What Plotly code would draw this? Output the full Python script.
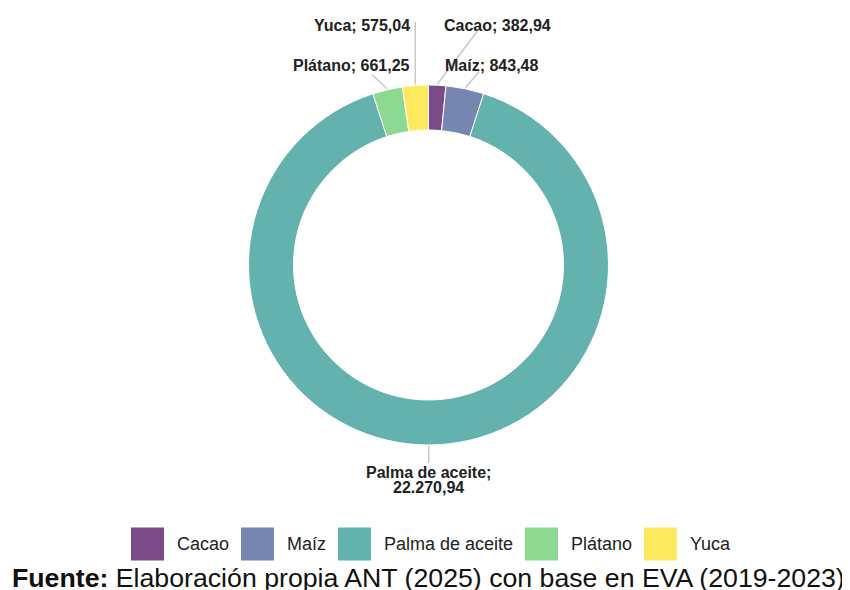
import math
import plotly.graph_objects as go

# ---- data ----
categories = ["Cacao", "Maíz", "Palma de aceite", "Plátano", "Yuca"]
values = [382.94, 843.48, 22270.94, 661.25, 575.04]
value_labels = ["382,94", "843,48", "22.270,94", "661,25", "575,04"]
colors = ["#7b4b87", "#7686b1", "#63b2ae", "#8ed992", "#fde95e"]

source_text = "<b>Fuente:</b> Elaboración propia ANT (2025) con base en EVA (2019-2023)"

# ---- layout constants (pixels, page has 8px body margin) ----
W, H = 850, 590
OFF = 8
CX, CY, R = 428.5 - OFF, 265.0 - OFF, 180.0
HOLE = 0.75
FONT = "Liberation Sans, Arial, sans-serif"
LINE_COLOR = "#c9c9c9"
# leader-line end offsets from slice edge point, and label placement
label_cfg = {
    "Cacao": dict(dx=40, dy=-53, tx=442, ty=25, anchor="left"),
    "Maíz": dict(dx=14, dy=-16, tx=443, ty=65, anchor="left"),
    "Palma de aceite": dict(dx=0, dy=17, tx=428.5, ty=472, anchor="center"),
    "Plátano": dict(dx=-15, dy=-14, tx=412, ty=65, anchor="right"),
    "Yuca": dict(dx=0, dy=-63, tx=412, ty=25, anchor="right"),
}
legend_x = [131, 241, 338, 525, 644]
legend_y = 544
legend_box = 33

fig = go.Figure()

fig.add_trace(go.Pie(
    labels=categories, values=values, hole=HOLE, sort=False,
    direction="clockwise", rotation=0,
    marker=dict(colors=colors, line=dict(color="white", width=1)),
    textinfo="none", hoverinfo="label+value", showlegend=False,
    domain=dict(x=[(CX - R) / W, (CX + R) / W],
                y=[(H - CY - R) / H, (H - CY + R) / H]),
))

# leader lines computed from slice mid-angles
total = sum(values)
cum = 0.0
annotations = []
lab_font = dict(family=FONT, size=16, color="#222")
for cat, v, vl in zip(categories, values, value_labels):
    mid = (cum + v / 2) / total * 2 * math.pi
    cum += v
    px = CX + (R + 1) * math.sin(mid)
    py = CY - (R + 1) * math.cos(mid)
    cfg = label_cfg[cat]
    fig.add_trace(go.Scatter(
        x=[px, px + cfg["dx"]], y=[py, py + cfg["dy"]], mode="lines",
        line=dict(color=LINE_COLOR, width=1.5), hoverinfo="skip",
        showlegend=False, xaxis="x", yaxis="y"))
    tx, ty = cfg["tx"] - OFF, cfg["ty"] - OFF
    if cat == "Palma de aceite":
        annotations.append(dict(x=tx, y=ty, xref="x", yref="y",
                                text=f"<b>{cat};</b>", showarrow=False,
                                xanchor="center", yanchor="middle", font=lab_font))
        annotations.append(dict(x=tx, y=ty + 15, xref="x", yref="y",
                                text=f"<b>{vl}</b>", showarrow=False,
                                xanchor="center", yanchor="middle", font=lab_font))
    else:
        annotations.append(dict(x=tx, y=ty, xref="x", yref="y",
                                text=f"<b>{cat}; {vl}</b>", showarrow=False,
                                xanchor=cfg["anchor"], yanchor="middle",
                                font=lab_font))

# custom legend
fig.add_trace(go.Scatter(
    x=[lx - OFF + legend_box / 2 for lx in legend_x],
    y=[legend_y - OFF] * len(legend_x),
    mode="markers", marker=dict(symbol="square", size=legend_box, color=colors,
                                line=dict(width=0)),
    hoverinfo="skip", showlegend=False, xaxis="x", yaxis="y"))
for lx, cat in zip(legend_x, categories):
    annotations.append(dict(x=lx - OFF + legend_box + 11, y=legend_y - OFF,
                            xref="x", yref="y",
                            text=cat, showarrow=False, xanchor="left",
                            yanchor="middle",
                            font=dict(family=FONT, size=18, color="#222")))

annotations.append(dict(x=13 - OFF - 3, y=570, xref="x", yref="y", text=source_text,
                        showarrow=False, xanchor="left", yanchor="middle",
                        font=dict(family=FONT, size=26.7, color="#111")))

fig.update_layout(
    width=W, height=H,
    margin=dict(l=0, r=0, t=0, b=0),
    paper_bgcolor="white", plot_bgcolor="rgba(0,0,0,0)",
    xaxis=dict(range=[0, W], visible=False, fixedrange=True),
    yaxis=dict(range=[H, 0], visible=False, fixedrange=True),
    annotations=annotations,
)

fig.write_html("out.html")
